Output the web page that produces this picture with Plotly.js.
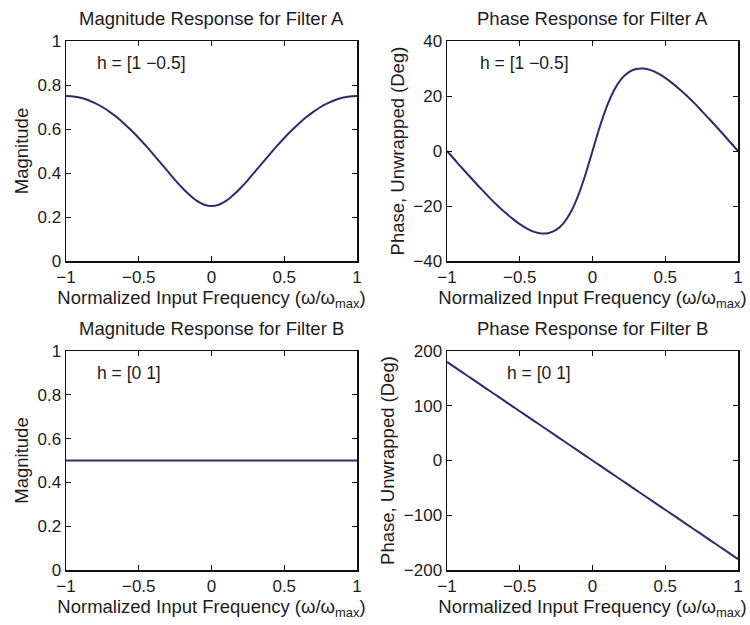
<!DOCTYPE html>
<html>
<head>
<meta charset="utf-8">
<script src="https://cdn.plot.ly/plotly-3.0.1.min.js"></script>
<style>html,body{margin:0;padding:0;background:#fff;}#chart{width:750px;height:625px;}</style>
</head>
<body>
<div id="chart"></div>
<script>
// Normalized input frequency (ω/ωmax)
const freq = [-1,-0.95,-0.9,-0.85,-0.8,-0.75,-0.7,-0.65,-0.6,-0.55,-0.5,-0.45,-0.4,-0.35,-0.3,-0.25,-0.2,-0.15,-0.1,-0.05,0,
              0.05,0.1,0.15,0.2,0.25,0.3,0.35,0.4,0.45,0.5,0.55,0.6,0.65,0.7,0.75,0.8,0.85,0.9,0.95,1];

// Filter A, h = [1 -0.5]
const magA = [0.750,0.748,0.742,0.732,0.718,0.700,0.678,0.653,0.624,0.593,0.559,0.523,0.485,0.446,0.407,0.368,0.332,0.300,0.273,0.256,0.250,
              0.256,0.273,0.300,0.332,0.368,0.407,0.446,0.485,0.523,0.559,0.593,0.624,0.653,0.678,0.700,0.718,0.732,0.742,0.748,0.750];
const phaseA = [0,-3.0,-6.0,-8.9,-11.8,-14.6,-17.4,-20.0,-22.4,-24.6,-26.6,-28.2,-29.4,-30.0,-29.8,-28.7,-26.3,-22.3,-16.4,-8.8,0,
                8.8,16.4,22.3,26.3,28.7,29.8,30.0,29.4,28.2,26.6,24.6,22.4,20.0,17.4,14.6,11.8,8.9,6.0,3.0,0];

// Filter B, h = [0 1]
const magB = [0.5,0.5,0.5,0.5,0.5,0.5,0.5,0.5,0.5,0.5,0.5,0.5,0.5,0.5,0.5,0.5,0.5,0.5,0.5,0.5,0.5,
              0.5,0.5,0.5,0.5,0.5,0.5,0.5,0.5,0.5,0.5,0.5,0.5,0.5,0.5,0.5,0.5,0.5,0.5,0.5,0.5];
const phaseB = [180,171,162,153,144,135,126,117,108,99,90,81,72,63,54,45,36,27,18,9,0,
                -9,-18,-27,-36,-45,-54,-63,-72,-81,-90,-99,-108,-117,-126,-135,-144,-153,-162,-171,-180];

const xTicks = [-1,-0.5,0,0.5,1];
const titles = ["Magnitude Response for Filter A","Phase Response for Filter A",
                "Magnitude Response for Filter B","Phase Response for Filter B"];
const filterLabels = ["h = [1 \u22120.5]","h = [0 1]"];
const xTitle = "Normalized Input Frequency (\u03c9/\u03c9<sub>max</sub>)";
const yTitles = ["Magnitude","Phase, Unwrapped (Deg)"];

const W = 750, H = 625;
const lineColor = "#2b2d6e";
const txt = "#1c1c1c";
const FONT = "Liberation Sans, Arial, Helvetica, sans-serif";

const series = [
  {x: freq, y: magA, xa: "x",  ya: "y"},
  {x: freq, y: phaseA, xa: "x2", ya: "y2"},
  {x: freq, y: magB, xa: "x3", ya: "y3"},
  {x: freq, y: phaseB, xa: "x4", ya: "y4"}
];
const traces = series.map(s => ({
  type: "scatter", mode: "lines", x: s.x, y: s.y, xaxis: s.xa, yaxis: s.ya,
  line: {color: lineColor, width: 2, shape: "spline", smoothing: 0.8}, hoverinfo: "skip", showlegend: false
}));

// pixel boxes [left, right, top, bottom]
const boxes = [[66,357,41,261],[447,738,41,261],[66,357,351,570],[447,738,351,570]];
const yRanges = [[0,1],[-40,40],[0,1],[-200,200]];
const yDticks = [0.2,20,0.2,100];

function xa(b){ return {
  domain: [b[0]/W, b[1]/W], range: [-1,1], tickvals: xTicks,
  ticks: "inside", ticklen: 5, tickwidth: 1, tickcolor: "#111",
  showline: true, linecolor: "#111", linewidth: 1.5, mirror: "ticks",
  showgrid: false, zeroline: false, fixedrange: true,
  tickfont: {family: FONT, size: 17, color: txt},
  title: {text: xTitle, standoff: 2, font: {family: FONT, size: 18.5, color: txt}}
};}
function ya(b, r, d, t){ return {
  domain: [1-b[3]/H, 1-b[2]/H], range: r, dtick: d, tick0: 0,
  ticks: "inside", ticklen: 5, tickwidth: 1, tickcolor: "#111",
  showline: true, linecolor: "#111", linewidth: 1.5, mirror: "ticks",
  showgrid: false, zeroline: false, fixedrange: true,
  tickfont: {family: FONT, size: 17, color: txt},
  title: {text: t, standoff: 4, font: {family: FONT, size: 18.5, color: txt}}
};}

const layout = {
  width: W, height: H, margin: {l:0, r:0, t:0, b:0},
  paper_bgcolor: "#fff", plot_bgcolor: "#fff",
  font: {family: FONT, color: txt},
  showlegend: false, annotations: []
};
const names = ["", "2", "3", "4"];
boxes.forEach((b, i) => {
  layout["xaxis" + names[i]] = Object.assign(xa(b), {anchor: "y" + names[i]});
  layout["yaxis" + names[i]] = Object.assign(ya(b, yRanges[i], yDticks[i], yTitles[i%2]), {anchor: "x" + names[i]});
  const cx = (b[0] + b[1]) / 2;
  // subplot title
  layout.annotations.push({text: titles[i], xref: "paper", yref: "paper",
    x: cx/W, y: 1 - (b[2]-23)/H, xanchor: "center", yanchor: "middle", showarrow: false,
    font: {family: FONT, size: 18.5, color: txt}});
});
// filter coefficient labels inside each plot
const labelPos = [[-0.8, 0.9],[-0.79, 32],[-0.8, 0.9],[-0.6, 160]];
const labelTxt = [filterLabels[0], filterLabels[0], filterLabels[1], filterLabels[1]];
labelPos.forEach((p, i) => {
  layout.annotations.push({text: labelTxt[i], xref: "x" + names[i], yref: "y" + names[i],
    x: p[0], y: p[1], xanchor: "left", yanchor: "middle", showarrow: false,
    font: {family: FONT, size: 17.5, color: txt}});
});

Plotly.newPlot("chart", traces, layout, {displayModeBar: false, staticPlot: true});
</script>
</body>
</html>
